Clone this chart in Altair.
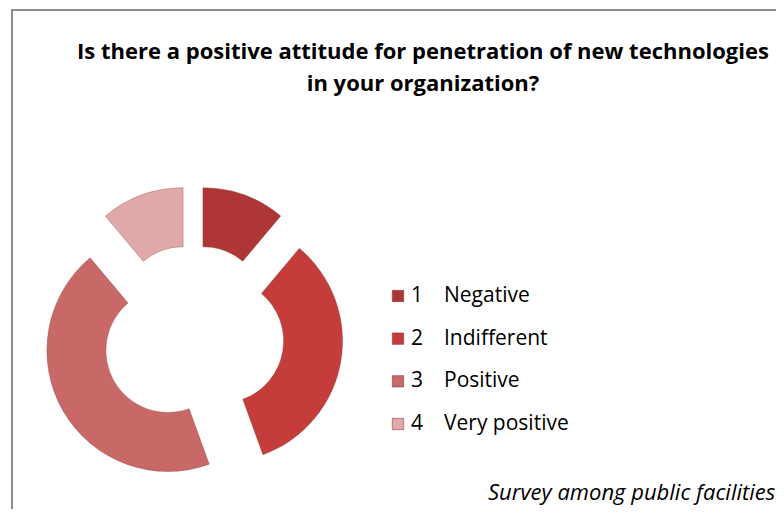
import altair as alt
import pandas as pd

# ---- data ----
codes = ["1", "2", "3", "4"]
categories = ["Negative", "Indifferent", "Positive", "Very positive"]
values = [5, 15, 20, 5]
colors = ["#ae3634", "#c53d3a", "#c86867", "#dfa9a9"]
title_lines = [
    "Is there a positive attitude for penetration of new technologies",
    "in your organization?",
]
footer = "Survey among public facilities"

df = pd.DataFrame({"code": codes, "category": categories, "value": values,
                   "order": list(range(len(codes)))})

FONT = "Open Sans"
CX, CY, EXPLODE = 185, 328, 29
R_OUT, R_IN = 121, 62

color_scale = alt.Scale(domain=categories, range=colors)

base = alt.Chart(df)

donut = base.transform_joinaggregate(
    total="sum(value)"
).transform_window(
    cum="sum(value)", sort=[alt.SortField("order")]
).transform_calculate(
    t0="2*PI*(datum.cum - datum.value)/datum.total",
    t1="2*PI*datum.cum/datum.total",
).transform_calculate(
    mid="(datum.t0 + datum.t1)/2"
).transform_calculate(
    px=f"{CX} + {EXPLODE}*sin(datum.mid)",
    py=f"{CY} - {EXPLODE}*cos(datum.mid)",
).mark_arc(radius=R_OUT, radius2=R_IN, stroke="#8a3a3a", strokeWidth=0.6,
           strokeOpacity=0.6).encode(
    theta=alt.Theta("t0:Q", scale=None),
    theta2="t1:Q",
    x=alt.X("px:Q", scale=None, axis=None),
    y=alt.Y("py:Q", scale=None, axis=None),
    color=alt.Color("category:N", scale=color_scale, legend=None),
)

leg_y = alt.Y("category:N", sort=categories,
              scale=alt.Scale(domain=categories, range=[288, 416], padding=0),
              axis=None)

leg_sq = base.mark_square(size=130, opacity=1, stroke="#7a2a2a",
                          strokeWidth=0.5).encode(
    x=alt.value(390), y=leg_y,
    color=alt.Color("category:N", scale=color_scale, legend=None),
)
leg_num = base.mark_text(align="left", baseline="middle", font=FONT,
                         fontSize=21, color="#000000").encode(
    x=alt.value(403), y=leg_y, text="code:N")
leg_txt = base.mark_text(align="left", baseline="middle", font=FONT,
                         fontSize=21, color="#000000").encode(
    x=alt.value(436), y=leg_y, text="category:N")

title1 = alt.Chart(pd.DataFrame({"t": [title_lines[0]]})).mark_text(
    font=FONT, fontSize=22, fontWeight="bold", align="center",
    baseline="middle", color="#000000").encode(
    x=alt.value(415), y=alt.value(44), text="t:N")
title2 = alt.Chart(pd.DataFrame({"t": [title_lines[1]]})).mark_text(
    font=FONT, fontSize=22, fontWeight="bold", align="center",
    baseline="middle", color="#000000").encode(
    x=alt.value(415), y=alt.value(76), text="t:N")
foot = alt.Chart(pd.DataFrame({"t": [footer]})).mark_text(
    font=FONT, fontSize=22, fontStyle="italic", align="left",
    baseline="middle", color="#000000").encode(
    x=alt.value(480), y=alt.value(485), text="t:N")

border_top = alt.Chart(pd.DataFrame({"a": [0]})).mark_rule(
    color="#8c8c8c", strokeWidth=2).encode(
    x=alt.value(3), x2=alt.value(800), y=alt.value(2))
border_left = alt.Chart(pd.DataFrame({"a": [0]})).mark_rule(
    color="#8c8c8c", strokeWidth=2).encode(
    x=alt.value(4), y=alt.value(2), y2=alt.value(520))

chart = alt.layer(
    border_top, border_left, donut, leg_sq, leg_num, leg_txt,
    title1, title2, foot,
).resolve_scale(
    x="independent", y="independent", color="shared"
).properties(
    width=768, height=501, padding=0,
    autosize=alt.AutoSizeParams(type="none"),
).configure_view(stroke=None, strokeWidth=0)

chart.save("out.html", embed_options={"renderer": "svg", "actions": False})
